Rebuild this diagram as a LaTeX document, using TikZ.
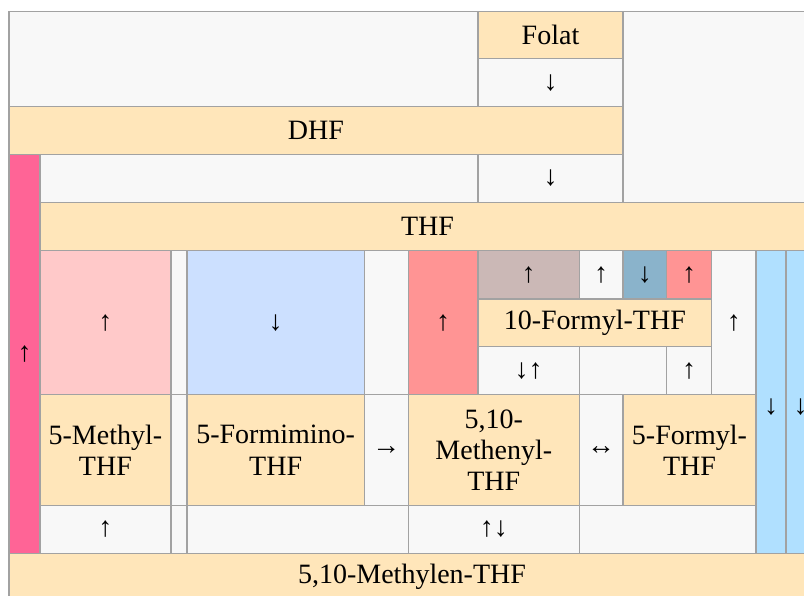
\documentclass[tikz,border=0pt]{standalone}
\usepackage{fontspec}
\setmainfont{Liberation Serif}
\definecolor{bord}{HTML}{A2A2A2}
\definecolor{cgrey}{HTML}{F8F8F8}
\definecolor{cbeige}{HTML}{FFE6BA}
\definecolor{cpink}{HTML}{FF6496}
\definecolor{clpink}{HTML}{FFC9C9}
\definecolor{clblue}{HTML}{CCE0FF}
\definecolor{csalmon}{HTML}{FF9494}
\definecolor{cbrown}{HTML}{CBB8B6}
\definecolor{csteel}{HTML}{8AB3CB}
\definecolor{csky}{HTML}{B0E0FF}
\tikzset{
  cellbox/.style={draw=bord, line width=1.5pt, inner sep=0pt, align=center,
    font=\fontsize{28}{31.4}\selectfont, text=black},
  txt/.style={inner sep=0pt, font=\fontsize{28}{31.4}\selectfont, text=black}
}
\newcommand\tcell[8]{\node[cellbox, fill=#5, minimum width={(#3-#1)*1pt}, minimum height={(#4-#2)*1pt}] (#6) at ({(#1+#3)/2},{(#2+#4)/2}) {#8};}
\begin{document}
\begin{tikzpicture}[x=1pt,y=-1pt]
\clip (0,0) rectangle (804,596);
\fill[white] (0,0) rectangle (804,596);
\tcell{9}{11.7}{478}{106.7}{cgrey}{tl}{}{}
\tcell{478}{11.7}{623}{58.7}{cbeige}{folat}{}{Folat}
\tcell{478}{58.7}{623}{106.7}{cgrey}{a1}{}{↓}
\tcell{623}{11.7}{815}{202.7}{cgrey}{tr}{}{}
\tcell{9}{106.7}{623}{154.3}{cbeige}{dhf}{}{DHF}
\tcell{9}{154.3}{40}{553.3}{cpink}{pink}{}{↑}
\tcell{40}{154.3}{478}{202.7}{cgrey}{e1}{}{}
\tcell{478}{154.3}{623}{202.7}{cgrey}{a2}{}{↓}
\tcell{40}{202.7}{815}{250.7}{cbeige}{thf}{}{THF}
\tcell{40}{250.7}{170.8}{394.7}{clpink}{c1}{}{↑}
\tcell{170.8}{250.7}{187}{394.7}{cgrey}{n1}{}{}
\tcell{187}{250.7}{364.3}{394.7}{clblue}{c2}{}{↓}
\tcell{364.3}{250.7}{408.3}{394.7}{cgrey}{n2}{}{}
\tcell{408.3}{250.7}{478}{394.7}{csalmon}{c3}{}{↑}
\tcell{478}{250.7}{579.3}{299}{cbrown}{c4}{}{↑}
\tcell{579.3}{250.7}{623}{299}{cgrey}{c5}{}{↑}
\tcell{623}{250.7}{666.7}{299}{csteel}{c6}{}{↓}
\tcell{666.7}{250.7}{711.7}{299}{csalmon}{c7}{}{↑}
\tcell{478}{299}{711.7}{346.7}{cbeige}{fthf}{}{10-Formyl-THF}
\tcell{478}{346.7}{579.3}{394.7}{cgrey}{c8}{}{↓↑}
\tcell{579.3}{346.7}{666.7}{394.7}{cgrey}{c9}{}{}
\tcell{666.7}{346.7}{711.7}{394.7}{cgrey}{c10}{}{↑}
\tcell{711.7}{250.7}{756}{394.7}{cgrey}{c11}{}{↑}
\tcell{756}{250.7}{786}{553.3}{csky}{s1}{}{}
\tcell{786}{250.7}{815}{553.3}{csky}{s2}{}{}
\node[txt] (s1a) at (771,407) {↓};
\node[txt] (s2a) at (800.5,407) {↓};
\tcell{40}{394.7}{170.8}{505.7}{cbeige}{mthf}{}{5-Methyl-\\THF}
\tcell{170.8}{394.7}{187}{505.7}{cgrey}{n3}{}{}
\tcell{187}{394.7}{364.3}{505.7}{cbeige}{fithf}{}{5-Formimino-\\THF}
\tcell{364.3}{394.7}{408.3}{505.7}{cgrey}{r1}{}{→}
\tcell{408.3}{394.7}{579.3}{505.7}{cbeige}{menthf}{}{5,10-\\Methenyl-\\THF}
\tcell{579.3}{394.7}{623}{505.7}{cgrey}{r2}{}{↔}
\tcell{623}{394.7}{756}{505.7}{cbeige}{fothf}{}{5-Formyl-\\THF}
\tcell{40}{505.7}{170.8}{553.3}{cgrey}{b1}{}{↑}
\tcell{170.8}{505.7}{187}{553.3}{cgrey}{n4}{}{}
\tcell{187}{505.7}{408.3}{553.3}{cgrey}{b2}{}{}
\tcell{408.3}{505.7}{579.3}{553.3}{cgrey}{b3}{}{↑↓}
\tcell{579.3}{505.7}{756}{553.3}{cgrey}{b4}{}{}
\tcell{9}{553.3}{815}{601}{cbeige}{mlthf}{}{5,10-Methylen-THF}
\end{tikzpicture}
\end{document}
